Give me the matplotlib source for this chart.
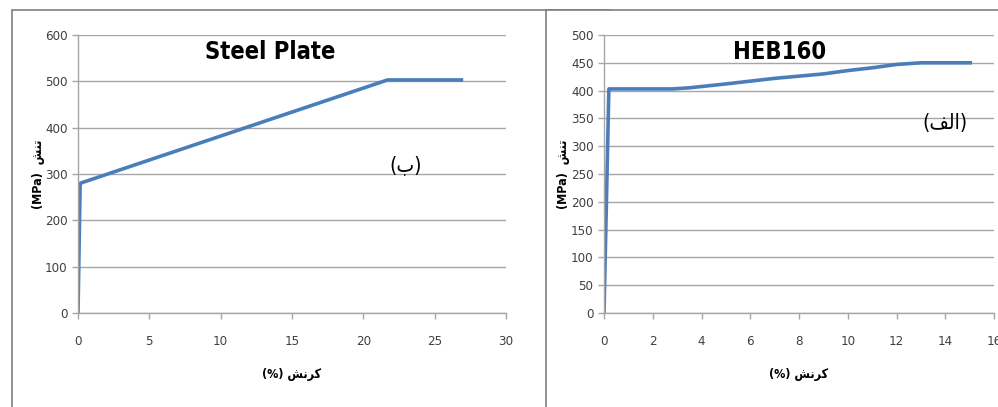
import matplotlib.pyplot as plt
from matplotlib.patches import Rectangle

plt.rcParams['font.family'] = ['DejaVu Sans']
plt.rcParams['font.stretch'] = 'condensed'

# steel plate (left panel)
plate_strain = [0, 0.15, 21.7, 27.0]
plate_stress = [0, 280, 503, 503]

# HEB160 (right panel)
heb_strain = [0, 0.2, 2.8, 3.5, 5, 7, 9, 10, 11, 12, 13, 15.1]
heb_stress = [0, 403, 403, 405, 412, 422, 430, 436, 441, 447, 450, 450]

plate_xticks = [0, 5, 10, 15, 20, 25, 30]
plate_yticks = [0, 100, 200, 300, 400, 500, 600]
heb_xticks = [0, 2, 4, 6, 8, 10, 12, 14, 16]
heb_yticks = [0, 50, 100, 150, 200, 250, 300, 350, 400, 450, 500]

# Persian labels written in visual order with presentation forms
XLABEL = "(%) \ufeb6\ufee7\ufeae\ufb90"          # کرنش (%)
YLABEL = "(MPa)  \ufeb6\ufee8\ufe97"            # تنش (MPa)
TAG_B = "(\ufe8f)"                               # (ب)
TAG_ALEF = "(\ufed2\ufedf\ufe8d)"                # (الف)

LINE = "#4a7ebb"
GRID = "#a6a6a6"
TXT = "#404040"

fig = plt.figure(figsize=(9.98, 4.07), dpi=100)

# panel frames (drawn behind the axes)
left_frame = Rectangle((12 / 998, -0.05), 0.6, 1.05 - 10 / 407,
                       transform=fig.transFigure, facecolor="white",
                       edgecolor="#7f7f7f", linewidth=1.2, zorder=-2)
right_frame = Rectangle((546 / 998, -0.05), 0.5, 1.05 - 10 / 407,
                        transform=fig.transFigure, facecolor="white",
                        edgecolor="#7f7f7f", linewidth=1.2, zorder=-1)
fig.patches.extend([left_frame, right_frame])


def style(ax, x, y, xt, yt, xlim, ylim, title, tag, tag_xy, ypad):
    ax.plot(x, y, color=LINE, linewidth=2.6, solid_capstyle="butt")
    ax.set_xlim(*xlim)
    ax.set_ylim(*ylim)
    ax.set_xticks(xt)
    ax.set_yticks(yt)
    ax.yaxis.grid(True, color=GRID, linewidth=1.0)
    ax.set_axisbelow(True)
    for s in ("top", "right"):
        ax.spines[s].set_visible(False)
    for s in ("left", "bottom"):
        ax.spines[s].set_color(GRID)
        ax.spines[s].set_linewidth(1.0)
    ax.tick_params(axis="both", colors=GRID, labelcolor=TXT, labelsize=9.5,
                   length=4, width=1.0, direction="out")
    ax.tick_params(axis="x", pad=12)
    ax.set_xlabel(XLABEL, fontsize=9, fontweight="bold", color="black",
                  labelpad=14)
    ax.set_ylabel(YLABEL, fontsize=9, fontweight="bold", color="black",
                  labelpad=ypad)
    ax.text(0.45, 0.94, title, transform=ax.transAxes, fontsize=17,
            fontweight="bold", ha="center", va="center")
    ax.text(tag_xy[0], tag_xy[1], tag, transform=ax.transAxes,
            fontsize=15, ha="center", va="center")
    ax.patch.set_alpha(0)


ax1 = fig.add_axes([78 / 998, 1 - 313 / 407, 428 / 998, 278 / 407])
style(ax1, plate_strain, plate_stress, plate_xticks, plate_yticks,
      (0, 30), (0, 600), "Steel Plate", TAG_B, (0.765, 0.53), 0)

ax2 = fig.add_axes([604 / 998, 1 - 313 / 407, 390 / 998, 278 / 407])
style(ax2, heb_strain, heb_stress, heb_xticks, heb_yticks,
      (0, 16), (0, 500), "HEB160", TAG_ALEF, (0.875, 0.685), 1)

fig.savefig("out.png", dpi=100)
